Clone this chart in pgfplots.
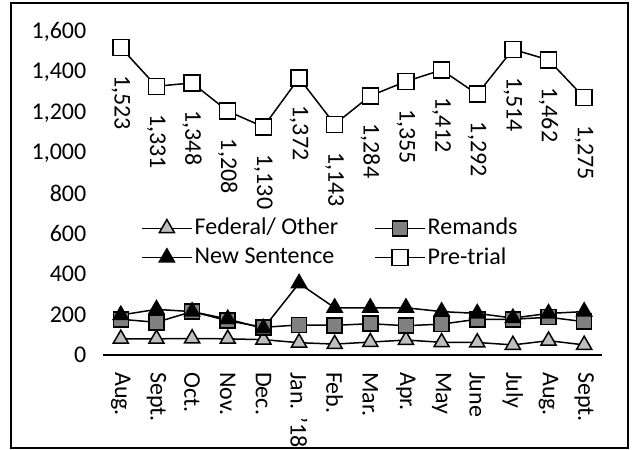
\documentclass[border=0pt]{standalone}
\usepackage{fontspec}
\setmainfont{Carlito}
\usepackage{pgfplots}
\pgfplotsset{compat=1.18}
\definecolor{fedgray}{HTML}{BFBFBF}
\definecolor{remgray}{HTML}{808080}
\pgfplotsset{/pgf/number format/.cd, 1000 sep={,}, assume math mode=true}
\newcommand{\chartfont}{\fontsize{24}{28}\selectfont}
\begin{document}
\chartfont
\begin{tikzpicture}[x=1pt,y=1pt]
\useasboundingbox (-103,-95) rectangle (530,355);
\draw[line width=1.5pt] (-92,-93) rectangle (525,352);
\begin{axis}[
  at={(0,0)}, anchor=south west,
  scale only axis, width=499pt, height=323pt,
  xmin=-0.5, xmax=13.5, ymin=0, ymax=1600,
  axis x line=bottom, axis y line=left,
  axis line style={-, line width=1.5pt},
  y axis line style={draw=none},
  xtick={0,...,13},
  xticklabels={Aug.,Sept.,Oct.,Nov.,Dec.,Jan. '18,Feb.,Mar.,Apr.,May,June,July,Aug.,Sept.},
  xticklabel style={rotate=-90, anchor=west, font=\chartfont},
  xticklabel shift={9pt},
  ytick={0,200,...,1600},
  yticklabel style={anchor=east, xshift=-8.5pt, font=\chartfont},
  major tick length=0pt,
  every axis plot/.append style={line width=1.5pt, mark options={solid, line width=1.3pt}},
  legend columns=2,
  legend style={at={(rel axis cs:0.07,0.347)}, anchor=west, draw=none, fill=none,
    font=\chartfont, row sep=5pt,
    /tikz/every even column/.append style={column sep=34pt}},
  legend cell align=left,
  legend image code/.code={\draw[mark repeat=2,mark phase=2,line width=1.5pt,#1] plot coordinates {(0pt,0pt) (25pt,0pt) (50pt,0pt)};},
  clip=false,
]
\addplot[black, mark=triangle*, mark size=8.7pt, mark options={fill=fedgray, draw=black}] coordinates {
(0,80) (1,80) (2,82) (3,80) (4,76) (5,61) (6,54) (7,64) (8,74) (9,63) (10,62) (11,50) (12,71) (13,50)};
\addlegendentry{Federal/ Other}
\addplot[black, mark=square*, mark size=7.5pt, mark options={fill=remgray, draw=black}] coordinates {
(0,177) (1,162) (2,215) (3,170) (4,137) (5,149) (6,147) (7,155) (8,145) (9,153) (10,177) (11,177) (12,187) (13,165)};
\addlegendentry{Remands}
\addplot[black, mark=triangle*, mark size=8.7pt, mark options={fill=black, draw=black}] coordinates {
(0,198) (1,226) (2,215) (3,178) (4,132) (5,355) (6,234) (7,234) (8,234) (9,215) (10,206) (11,183) (12,206) (13,215)};
\addlegendentry{New Sentence}
\addplot[black, mark=square*, mark size=8pt, mark options={fill=white, draw=black},
  nodes near coords,
  every node near coord/.append style={yshift=-19pt, rotate=-90, anchor=west, font=\chartfont, black}] coordinates {
(0,1523) (1,1331) (2,1348) (3,1208) (4,1130) (5,1372) (6,1143) (7,1284) (8,1355) (9,1412) (10,1292) (11,1514) (12,1462) (13,1275)};
\addlegendentry{Pre-trial}
\end{axis}
\end{tikzpicture}
\end{document}
